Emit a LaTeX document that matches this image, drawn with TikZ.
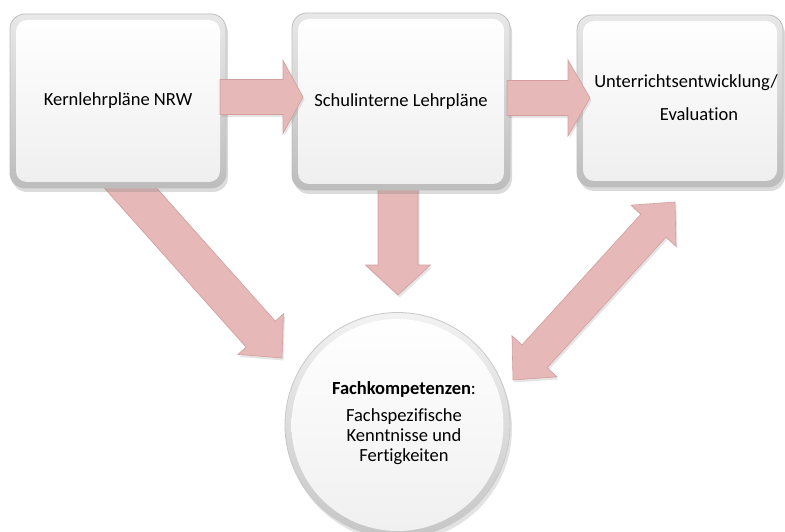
\documentclass[tikz,border=0pt]{standalone}
\usepackage{fontspec}
\setmainfont{Carlito}[Ligatures={NoCommon}]
\usetikzlibrary{calc,shadows}
\definecolor{arrowpink}{RGB}{230,184,183}
\definecolor{arrowedge}{RGB}{212,158,158}
% #1 name, #2 tail, #3 tip, #4 body half width, #5 head half width, #6 head length
\newcommand{\bkarrow}[6]{%
  \coordinate (#1h) at ($(#3)!#6!(#2)$);
  \path[pinkarrow] ($(#2)!#4!90:(#3)$) -- ($(#1h)!#4!90:(#3)$) -- ($(#1h)!#5!90:(#3)$) -- (#3)
    -- ($(#1h)!#5!-90:(#3)$) -- ($(#1h)!#4!-90:(#3)$) -- ($(#2)!#4!-90:(#3)$) -- cycle;}
% #1 name, #2 tip A, #3 tip B, #4 body half width, #5 head half width, #6 head length
\newcommand{\bkdarrow}[6]{%
  \coordinate (#1p) at ($(#2)!#6!(#3)$);
  \coordinate (#1q) at ($(#3)!#6!(#2)$);
  \path[pinkarrow] (#2) -- ($(#1p)!#5!90:(#3)$) -- ($(#1p)!#4!90:(#3)$) -- ($(#1q)!#4!90:(#3)$)
    -- ($(#1q)!#5!90:(#3)$) -- (#3) -- ($(#1q)!#5!-90:(#3)$) -- ($(#1q)!#4!-90:(#3)$)
    -- ($(#1p)!#4!-90:(#3)$) -- ($(#1p)!#5!-90:(#3)$) -- cycle;}
\tikzset{
  pinkarrow/.style={fill=arrowpink, draw=arrowedge, line width=0.6pt, line join=miter,
    drop shadow={opacity=0.2, shadow xshift=1.5pt, shadow yshift=-2.5pt}},
  bevelbox/.style={rectangle, rounded corners=15pt, draw=gray!50, line width=0.8pt,
    top color=gray!18, bottom color=gray!52, inner sep=0pt,
    drop shadow={opacity=0.28, shadow xshift=2pt, shadow yshift=-4pt},
    path picture={\shade[rounded corners=11pt, top color=white, bottom color=gray!13]
      ([xshift=6pt,yshift=-6pt]path picture bounding box.north west) rectangle
      ([xshift=-6pt,yshift=6pt]path picture bounding box.south east);}},
  fkcircle/.style={circle, draw=gray!42, line width=0.8pt, top color=gray!10, bottom color=gray!45,
    minimum size=225pt, inner sep=0pt,
    drop shadow={opacity=0.22, shadow xshift=2pt, shadow yshift=-4pt},
    path picture={\shade[top color=white, bottom color=gray!12]
      (path picture bounding box.center) circle (106pt);}},
  lbl/.style={font=\fontsize{18.5}{22}\selectfont, text=black, align=center, inner sep=0pt},
  clbl/.style={font=\fontsize{18.5}{20}\selectfont, text=black, align=center, inner sep=0pt}
}
\begin{document}
\begin{tikzpicture}[x=1pt,y=-1pt]
\useasboundingbox (0,0) rectangle (785,532);
\clip (0,0) rectangle (785,532);
\fill[white] (0,0) rectangle (785,532);
% arrows going under the boxes
\coordinate (d1s) at (118,174);
\coordinate (d1e) at (282,358);
\bkarrow{d1}{d1s}{d1e}{19.5pt}{30.5pt}{32pt}
\coordinate (d2s) at (398,180);
\coordinate (d2e) at (398,295);
\bkarrow{d2}{d2s}{d2e}{20pt}{32.5pt}{30pt}
% boxes
\node[bevelbox, minimum width=216pt, minimum height=174pt, lbl] (k1) at (118,101) {Kernlehrpläne NRW};
\node[bevelbox, minimum width=218pt, minimum height=177pt, lbl] (k2) at (401,101.5) {Schulinterne Lehrpläne};
\node[bevelbox, minimum width=206pt, minimum height=172pt] (k3) at (680,101) {};
\node[lbl] (t3) at (686,98) {Unterrichtsentwicklung/\\[11pt]\hspace*{26pt}Evaluation};
% horizontal arrows over the boxes
\coordinate (h1s) at (220,97);
\coordinate (h1e) at (303,97);
\bkarrow{h1}{h1s}{h1e}{17.5pt}{36.5pt}{20pt}
\coordinate (h2s) at (507,98);
\coordinate (h2e) at (590,98);
\bkarrow{h2}{h2s}{h2e}{17.5pt}{38pt}{22pt}
% circle
\node[fkcircle] (fk) at (397.5,425) {};
\node[clbl] (tfk) at (404,423) {{\bfseries Fachkompetenzen}:\\[7pt]Fachspezifische\\Kenntnisse und\\Fertigkeiten};
% double arrow
\coordinate (ea) at (513,380);
\coordinate (eb) at (675,202);
\bkdarrow{e}{ea}{eb}{17pt}{30.5pt}{32pt}
\end{tikzpicture}
\end{document}
